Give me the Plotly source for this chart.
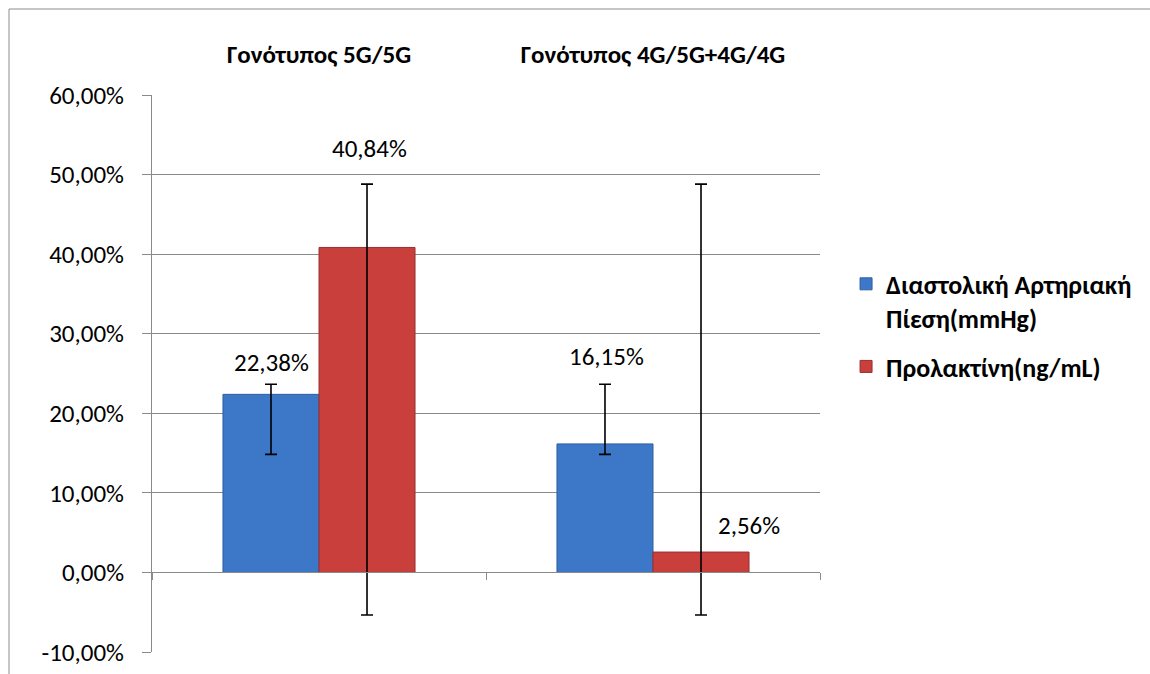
import plotly.graph_objects as go

categories = ["Γονότυπος 5G/5G", "Γονότυπος 4G/5G+4G/4G"]
series_names = ["Διαστολική Αρτηριακή<br>Πίεση(mmHg)", "Προλακτίνη(ng/mL)"]
diastolic = [22.38, 16.15]
prolactin = [40.84, 2.56]
diastolic_err_high = [23.65, 23.65]
diastolic_err_low = [14.84, 14.84]
prolactin_err_high = [48.8, 48.8]
prolactin_err_low = [-5.35, -5.35]
y_ticks = [-10, 0, 10, 20, 30, 40, 50, 60]

# label placement as moved in the original (data units / pixel shifts)
diastolic_label_y = [26.4, 27.1]
prolactin_label_y = [53.3, 5.9]
diastolic_label_dx = [-48, -47]
prolactin_label_dx = [50, 96]

FONT = "Carlito, Lato, 'Open Sans', sans-serif"
BLUE = "#3d78c8"
RED = "#c93f3b"
GRID = "#8a8a8a"


def fmt(v):
    return f"{v:.2f}".replace(".", ",") + "%"


fig = go.Figure()
fig.add_trace(go.Bar(
    x=categories, y=diastolic, name=series_names[0],
    marker=dict(color=BLUE, line=dict(color="#2f5e9e", width=1)),
    error_y=dict(type="data", symmetric=False,
                 array=[h - v for h, v in zip(diastolic_err_high, diastolic)],
                 arrayminus=[v - l for l, v in zip(diastolic_err_low, diastolic)],
                 color="black", thickness=1.6, width=6),
    legendgroup="a",
))
fig.add_trace(go.Bar(
    x=categories, y=prolactin, name=series_names[1],
    marker=dict(color=RED, line=dict(color="#983030", width=1)),
    error_y=dict(type="data", symmetric=False,
                 array=[h - v for h, v in zip(prolactin_err_high, prolactin)],
                 arrayminus=[v - l for l, v in zip(prolactin_err_low, prolactin)],
                 color="black", thickness=1.6, width=6),
    legendgroup="b",
))
# invisible trace to carry the axis at zero with boundary ticks
fig.add_trace(go.Scatter(
    x=categories, y=[0, 0], xaxis="x2", mode="markers",
    marker=dict(opacity=0), showlegend=False, hoverinfo="skip",
))

annotations = []
for i, c in enumerate(categories):
    annotations.append(dict(x=c, y=diastolic_label_y[i], xref="x", yref="y",
                            text=fmt(diastolic[i]), showarrow=False,
                            xshift=diastolic_label_dx[i],
                            font=dict(family=FONT, size=25, color="black")))
    annotations.append(dict(x=c, y=prolactin_label_y[i], xref="x", yref="y",
                            text=fmt(prolactin[i]), showarrow=False,
                            xshift=prolactin_label_dx[i],
                            font=dict(family=FONT, size=25, color="black")))

fig.update_layout(
    width=1150, height=674,
    margin=dict(l=152, r=330, t=95, b=22),
    paper_bgcolor="white", plot_bgcolor="white",
    barmode="group", bargap=0.425, bargroupgap=0,
    font=dict(family=FONT, size=25, color="black"),
    xaxis=dict(type="category", categoryarray=categories, side="top",
               showline=False, ticks="", showgrid=False, automargin=False,
               ticklabelstandoff=26,
               tickfont=dict(family=FONT, size=25, color="black", weight="bold"),
               range=[-0.5, 1.5]),
    xaxis2=dict(type="category", categoryarray=categories, overlaying="x",
                anchor="free", position=1 / 7, range=[-0.5, 1.5],
                showline=True, linecolor=GRID, linewidth=1, automargin=False,
                ticks="outside", tickson="boundaries", ticklen=7,
                tickcolor=GRID, showticklabels=False, showgrid=False),
    yaxis=dict(range=[-10, 60], tickvals=y_ticks,
               ticktext=[fmt(v) for v in y_ticks],
               showgrid=True, gridcolor=GRID, gridwidth=1, automargin=False,
               zeroline=False, showline=True, linecolor=GRID, linewidth=1,
               ticks="outside", ticklen=9, tickcolor=GRID,
               ticklabelstandoff=13,
               tickfont=dict(family=FONT, size=25, color="black")),
    legend=dict(x=1.039, y=0.703, xanchor="left", yanchor="top", valign="top",
                font=dict(family=FONT, size=26, color="black", weight="bold"),
                tracegroupgap=12, itemwidth=30, bgcolor="rgba(0,0,0,0)"),
    annotations=annotations,
    shapes=[dict(type="rect", xref="paper", yref="paper",
                 x0=(9 - 152) / 668, x1=(1160 - 152) / 668,
                 y0=-0.2, y1=1 + (95 - 9) / 557,
                 line=dict(color="#8c8c8c", width=1), fillcolor="rgba(0,0,0,0)",
                 layer="below")],
    showlegend=True,
)

fig.write_html("out.html")
